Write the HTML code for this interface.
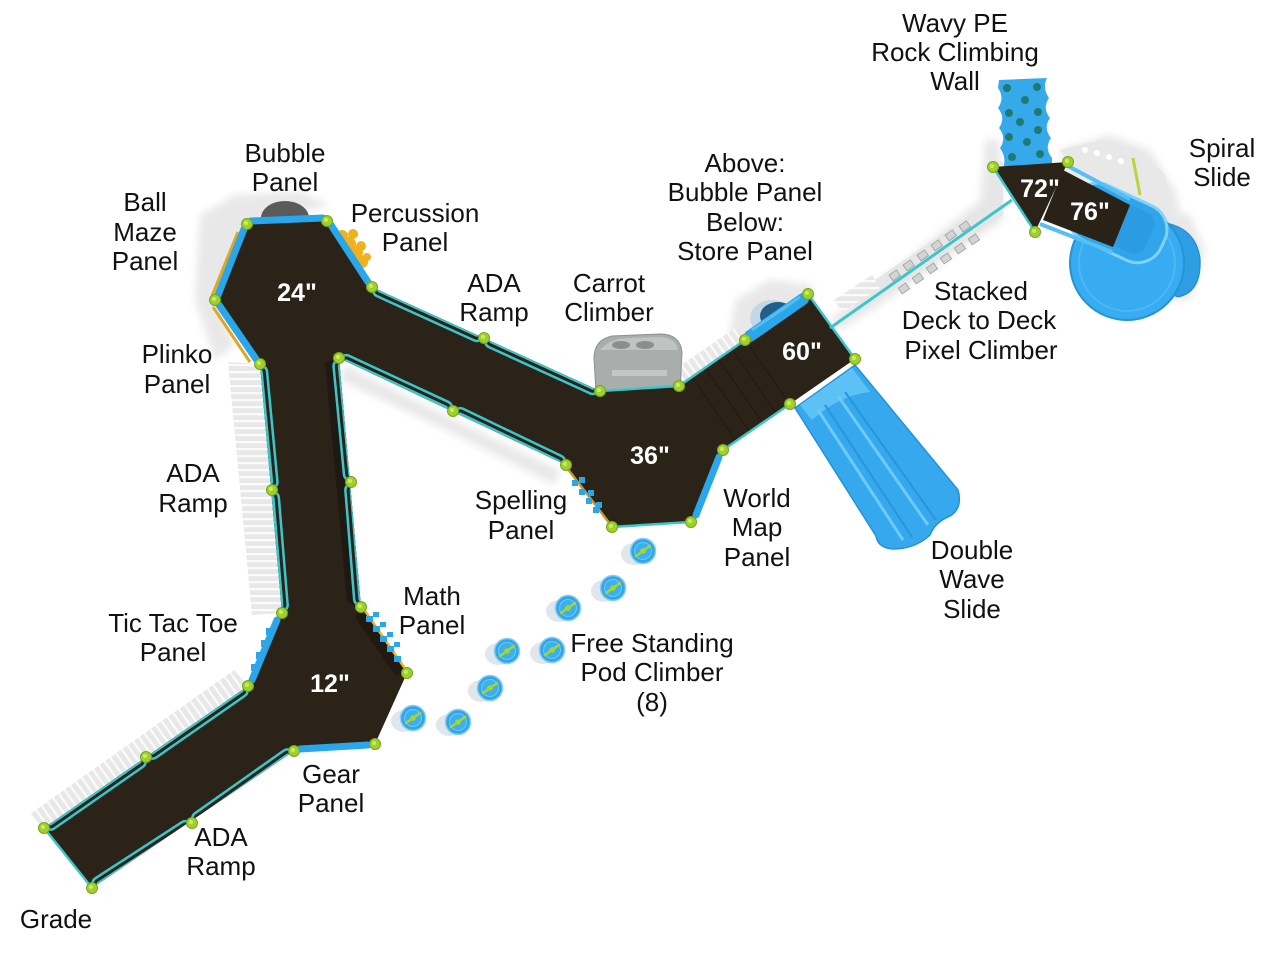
<!DOCTYPE html>
<html>
<head>
<meta charset="utf-8">
<style>
html,body{margin:0;padding:0;background:#fff;}
svg{display:block;}
.lb{font-family:"Liberation Sans",Arial,sans-serif;font-size:26px;fill:#111;text-anchor:middle;}
.dk{font-family:"Liberation Sans",Arial,sans-serif;font-size:25px;font-weight:bold;fill:#fff;text-anchor:middle;}
</style>
</head>
<body>
<svg width="1280" height="960" viewBox="0 0 1280 960" xmlns="http://www.w3.org/2000/svg">
<defs>
  <pattern id="rail" width="8" height="7" patternUnits="userSpaceOnUse">
    <rect width="8" height="7" fill="#e8e8e8"/>
    <rect width="8" height="2.2" fill="#fbfbfb"/>
  </pattern>
  <pattern id="railD" width="8" height="7" patternUnits="userSpaceOnUse" patternTransform="rotate(55)">
    <rect width="8" height="7" fill="#e8e8e8"/>
    <rect width="8" height="2.2" fill="#fbfbfb"/>
  </pattern>
  <filter id="blur" x="-20%" y="-20%" width="140%" height="140%"><feGaussianBlur stdDeviation="4"/></filter>
  <clipPath id="deckclip">
    <polygon points="247,224 327,221 372,287 600,391 679,386 745,340 808,294 855,359 790,404 723,450 691,522 612,527 566,465 339,358 361,607 407,673 375,744 294,751 92,888 44,828 248,686 282,613 260,364 215,300"/>
  </clipPath>
  <path id="rails" d="M241.4,690.6 L152.6,752.4 M139.4,761.6 L50.6,823.4 M287.5,755.6 L198.5,818.4 M185.3,827.4 L98.7,883.6 M260.8,372 L271.2,482 M272.6,498 L281.4,605 M339.8,366 L350.2,474 M351.6,490 L360.4,599 M379.3,290.3 L476.7,334.7 M491.3,341.3 L592.7,387.7 M346.3,361.4 L445.7,407.6 M460.3,414.4 L558.7,461.6"/>
  <g id="pod">
    <ellipse cx="-9" cy="3" rx="13" ry="11" fill="#dfe6ec"/>
    <circle r="12.5" fill="#2fa6ea" stroke="#86cdf2" stroke-width="1.5"/>
    <circle r="8.5" fill="#3bb0ef" stroke="#74c6f2" stroke-width="1"/>
    <line x1="-7" y1="5" x2="7" y2="-5" stroke="#a8d42c" stroke-width="2.6" stroke-linecap="round"/>
    <circle r="2.8" fill="#a8d42c"/>
  </g>
  <g id="post">
    <circle r="5.5" fill="#9fd02e" stroke="#76a51a" stroke-width="1"/>
    <circle r="2" cx="-1" cy="-1" fill="#c8ec5e"/>
  </g>
</defs>

<rect width="1280" height="960" fill="#fff"/>

<!-- ===== soft shadows ===== -->
<g filter="url(#blur)" fill="#e8e8e8">
  <polygon points="200,215 235,195 300,192 330,205 250,225 215,300 235,345 215,360 195,300"/>
  <polygon points="345,365 455,420 560,470 555,485 450,432 340,380"/>
  <polygon points="985,140 1000,140 1003,220 880,305 840,330 830,320 900,265 980,200"/>
  <polygon points="1060,150 1110,135 1150,150 1175,190 1185,230 1150,215 1100,190 1065,175"/>
  <polygon points="735,300 770,280 815,285 800,300 750,340 730,335"/>
  <polygon points="1135,205 1190,215 1205,250 1190,300 1160,300"/>
</g>
<polygon points="860,290 985,205 995,160 1003,162 1003,215 850,318" fill="#e6e6e6"/>
<polygon points="1060,150 1100,140 1140,150 1165,175 1170,200 1130,200 1075,172" fill="#e8e8e8"/>
<g fill="#fff">
  <circle cx="1085" cy="150" r="3"/><circle cx="1097" cy="153" r="3"/><circle cx="1109" cy="157" r="3"/><circle cx="1121" cy="161" r="3"/>
</g>
<line x1="1133" y1="158" x2="1140" y2="195" stroke="#b6d640" stroke-width="3"/>

<polygon points="228,362 260,364 282,613 252,615" fill="url(#rail)"/>
<polygon points="248,686 44,828 30,814 234,670" fill="url(#railD)"/>
<polygon points="679,386 745,340 738,326 672,371" fill="url(#railD)"/>
<polygon points="842,312 880,288 872,275 834,300" fill="url(#rail)"/>
<polygon points="600,380 680,375 675,365 605,368" fill="#ebebeb"/>

<!-- ===== Carrot climber ===== -->
<ellipse cx="640" cy="390" rx="48" ry="8" fill="#dcdcdc"/>
<path d="M596,392 L594,358 Q594,340 612,336 L660,334 Q680,334 682,352 L680,392 Z" fill="#a9adac" stroke="#8c908f" stroke-width="1"/>
<path d="M600,350 Q610,338 630,338 L660,337 Q676,338 678,350 Z" fill="#bfc3c2"/>
<ellipse cx="621" cy="345" rx="9" ry="4" fill="#8a8e8d"/>
<ellipse cx="645" cy="345" rx="9" ry="4" fill="#8a8e8d"/>
<rect x="612" y="370" width="55" height="6" fill="#c4c7c6"/>

<ellipse cx="285" cy="218" rx="24" ry="17" fill="#5a5a5a"/>

<ellipse cx="772" cy="318" rx="22" ry="18" fill="#a9cde6" opacity="0.6"/>
<ellipse cx="778" cy="316" rx="18" ry="14" fill="#1f5f8a"/>

<!-- ===== Main deck / ramps ===== -->
<polygon points="247,224 327,221 372,287 600,391 679,386 745,340 808,294 855,359 790,404 723,450 691,522 612,527 566,465 339,358 361,607 407,673 375,744 294,751 92,888 44,828 248,686 282,613 260,364 215,300" fill="#2c2318"/>

<g clip-path="url(#deckclip)">
  <polygon points="325,362 339,358 361,607 347,602" fill="#1f1913"/>
  <polygon points="339,358 380,375 372,392 340,378" fill="#1f1913"/>
  <polygon points="361,607 407,673 395,675 355,618" fill="#211a13"/>
  <g stroke="#221b13" stroke-width="1.2">
    <line x1="692" y1="377" x2="736" y2="441"/>
    <line x1="705" y1="368" x2="750" y2="432"/>
    <line x1="718" y1="359" x2="763" y2="423"/>
    <line x1="732" y1="349" x2="776" y2="413"/>
    <line x1="745" y1="340" x2="790" y2="404"/>
  </g>
  <use href="#rails" fill="none" stroke="#3cc6cb" stroke-width="15" stroke-linecap="round"/>
  <use href="#rails" fill="none" stroke="#2c2318" stroke-width="10" stroke-linecap="round"/>
  <use href="#rails" fill="none" stroke="#3cc6cb" stroke-width="4" stroke-linecap="round"/>
</g>

<g stroke="#3cc6cb" stroke-width="2.5" fill="none">
  <line x1="600" y1="391" x2="679" y2="386"/>
  <line x1="679" y1="386" x2="745" y2="340"/>
  <line x1="790" y1="404" x2="723" y2="450"/>
  <line x1="612" y1="527" x2="691" y2="522"/>
  <line x1="808" y1="294" x2="855" y2="359"/>
  <line x1="44" y1="828" x2="92" y2="888"/>
</g>

<!-- ===== Pixel climber ===== -->
<line x1="830" y1="328" x2="1012" y2="200" stroke="#3cc6cb" stroke-width="3"/>
<g fill="#d2d4d4" stroke="#9a9c9c" stroke-width="0.8">
  <g transform="translate(900,282) rotate(-35)"><rect x="-5" y="-12" width="9" height="7"/><rect x="-5" y="4" width="9" height="7"/></g>
  <g transform="translate(914,272) rotate(-35)"><rect x="-5" y="-12" width="9" height="7"/><rect x="-5" y="4" width="9" height="7"/></g>
  <g transform="translate(928,262) rotate(-35)"><rect x="-5" y="-12" width="9" height="7"/><rect x="-5" y="4" width="9" height="7"/></g>
  <g transform="translate(942,252) rotate(-35)"><rect x="-5" y="-12" width="9" height="7"/><rect x="-5" y="4" width="9" height="7"/></g>
  <g transform="translate(956,242) rotate(-35)"><rect x="-5" y="-12" width="9" height="7"/><rect x="-5" y="4" width="9" height="7"/></g>
  <g transform="translate(970,233) rotate(-35)"><rect x="-5" y="-12" width="9" height="7"/><rect x="-5" y="4" width="9" height="7"/></g>
</g>

<!-- ===== Panels ===== -->
<g fill="#f0b11e">
  <circle cx="342" cy="236" r="6"/><circle cx="349" cy="244" r="7"/><circle cx="356" cy="253" r="7"/><circle cx="362" cy="262" r="6"/><circle cx="353" cy="234" r="5"/><circle cx="361" cy="246" r="5"/><circle cx="367" cy="257" r="4"/>
</g>
<g stroke="#e0a820" stroke-width="3" fill="none">
  <line x1="238" y1="232" x2="212" y2="296"/>
  <line x1="213" y1="307" x2="250" y2="362"/>
</g>
<g stroke="#2aa6ea" stroke-width="7" stroke-linecap="round" fill="none">
  <line x1="251" y1="221" x2="323" y2="218"/>
  <line x1="331" y1="225" x2="368" y2="282"/>
  <line x1="244" y1="229" x2="218" y2="295"/>
  <line x1="219" y1="305" x2="256" y2="359"/>
  <line x1="277" y1="620" x2="252" y2="680"/>
  <line x1="300" y1="749" x2="368" y2="745"/>
  <line x1="719" y1="457" x2="696" y2="515"/>
</g>
<g fill="#2aa6ea">
  <rect x="266" y="628" width="7" height="7"/><rect x="261" y="640" width="7" height="7"/><rect x="256" y="652" width="7" height="7"/><rect x="251" y="664" width="7" height="7"/>
</g>
<line x1="363" y1="608" x2="406" y2="670" stroke="#e8b820" stroke-width="2.5"/>
<g fill="#2aa6ea">
  <rect x="366" y="616" width="7" height="6"/><rect x="373" y="626" width="7" height="6"/><rect x="380" y="636" width="7" height="6"/><rect x="387" y="646" width="7" height="6"/><rect x="394" y="656" width="7" height="6"/>
  <rect x="373" y="612" width="6" height="5"/><rect x="380" y="622" width="6" height="5"/><rect x="387" y="632" width="6" height="5"/><rect x="394" y="642" width="6" height="5"/>
</g>
<line x1="567" y1="468" x2="610" y2="524" stroke="#c89a30" stroke-width="2.5"/>
<g fill="#2aa6ea">
  <rect x="572" y="480" width="6" height="6"/><rect x="579" y="489" width="6" height="6"/><rect x="586" y="498" width="6" height="6"/><rect x="593" y="507" width="6" height="6"/>
  <rect x="579" y="477" width="6" height="6"/><rect x="588" y="490" width="6" height="6"/><rect x="596" y="502" width="6" height="6"/>
</g>
<line x1="750" y1="336" x2="803" y2="299" stroke="#2aa6ea" stroke-width="12" stroke-linecap="round"/>
<line x1="752" y1="330" x2="800" y2="297" stroke="#56bdf2" stroke-width="3"/>

<!-- ===== Double wave slide ===== -->
<path d="M795,408 L855,365 L958,490 Q963,508 950,516 Q935,522 930,535 Q915,549 893,549 Q878,548 876,536 Z" fill="#36a9ee" stroke="#2590d6" stroke-width="1.5"/>
<path d="M800,405 L852,368 L870,392 Q840,395 812,420 Z" fill="#5cc2f5"/>
<g stroke="#6dcaf6" stroke-width="3" fill="none">
  <line x1="818" y1="410" x2="903" y2="540"/>
  <line x1="838" y1="396" x2="928" y2="525"/>
</g>
<g stroke="#2a94d8" stroke-width="2" fill="none">
  <line x1="825" y1="405" x2="912" y2="537"/>
  <line x1="845" y1="392" x2="936" y2="520"/>
</g>

<!-- ===== Spiral slide ===== -->
<path d="M1158,222 Q1195,225 1200,258 Q1202,292 1178,297 L1160,290 Z" fill="#2e9ee2" stroke="#2288cc" stroke-width="1"/>
<circle cx="1127" cy="263" r="57" fill="#38acf0" stroke="#2592d8" stroke-width="2"/>
<circle cx="1127" cy="263" r="48" fill="none" stroke="#4cb8f3" stroke-width="2"/>
<g transform="translate(1122,225) rotate(25)">
  <rect x="-55" y="-30" width="100" height="60" rx="26" fill="#31a5ec" stroke="#7fd2fa" stroke-width="3"/>
  <rect x="-10" y="-22" width="40" height="44" rx="12" fill="#2b9ce4"/>
</g>

<!-- ===== Rock wall ===== -->
<path d="M999,80 L1047,78 q-5,10 2,20 q-7,10 1,20 q-7,10 1,20 q-7,10 1,20 L1052,166 L1003,168 q4,-10 -3,-20 q7,-10 -1,-20 q7,-10 -1,-20 q7,-10 0,-20 Z" fill="#36a9ea"/>
<g fill="#1f7a74">
  <circle cx="1007" cy="88" r="4"/><circle cx="1037" cy="87" r="4"/><circle cx="1025" cy="100" r="4"/>
  <circle cx="1009" cy="113" r="4"/><circle cx="1038" cy="112" r="4"/><circle cx="1020" cy="122" r="4"/>
  <circle cx="1009" cy="137" r="4"/><circle cx="1027" cy="142" r="4"/><circle cx="1038" cy="130" r="4"/>
  <circle cx="1012" cy="157" r="4"/><circle cx="1040" cy="154" r="4"/>
</g>

<!-- ===== 72" / 76" decks ===== -->
<polygon points="1063,170 1130,205 1113,247 1043,220" fill="#2a2117"/>
<polygon points="993,167 1068,162 1035,232" fill="#2c2318"/>
<line x1="993" y1="167" x2="1035" y2="232" stroke="#3cc6cb" stroke-width="2.5"/>
<line x1="1068" y1="166" x2="1130" y2="199" stroke="#56c0f5" stroke-width="4"/>
<line x1="1040" y1="224" x2="1112" y2="252" stroke="#56c0f5" stroke-width="4"/>

<!-- ===== Pods ===== -->
<use href="#pod" x="643" y="551"/>
<use href="#pod" x="613" y="588"/>
<use href="#pod" x="568" y="608"/>
<use href="#pod" x="552" y="650"/>
<use href="#pod" x="507" y="651"/>
<use href="#pod" x="490" y="688"/>
<use href="#pod" x="458" y="722"/>
<use href="#pod" x="413" y="718"/>

<!-- ===== Posts ===== -->
<use href="#post" x="247" y="224"/><use href="#post" x="327" y="221"/><use href="#post" x="372" y="287"/>
<use href="#post" x="215" y="300"/><use href="#post" x="260" y="364"/><use href="#post" x="339" y="358"/>
<use href="#post" x="272" y="490"/><use href="#post" x="351" y="482"/>
<use href="#post" x="282" y="613"/><use href="#post" x="361" y="607"/><use href="#post" x="407" y="673"/>
<use href="#post" x="375" y="744"/><use href="#post" x="294" y="751"/><use href="#post" x="248" y="686"/>
<use href="#post" x="146" y="757"/><use href="#post" x="192" y="823"/><use href="#post" x="44" y="828"/><use href="#post" x="92" y="888"/>
<use href="#post" x="484" y="338"/><use href="#post" x="453" y="411"/>
<use href="#post" x="600" y="391"/><use href="#post" x="679" y="386"/><use href="#post" x="566" y="465"/>
<use href="#post" x="612" y="527"/><use href="#post" x="691" y="522"/><use href="#post" x="723" y="450"/>
<use href="#post" x="745" y="340"/><use href="#post" x="808" y="294"/><use href="#post" x="855" y="359"/><use href="#post" x="790" y="404"/>
<use href="#post" x="993" y="167"/><use href="#post" x="1068" y="162"/><use href="#post" x="1035" y="232"/>

<!-- ===== Deck height labels ===== -->
<text class="dk" x="297" y="301">24"</text>
<text class="dk" x="650" y="464">36"</text>
<text class="dk" x="802" y="360">60"</text>
<text class="dk" x="330" y="692">12"</text>
<text class="dk" x="1040" y="197">72"</text>
<text class="dk" x="1090" y="220">76"</text>

<!-- ===== Callout labels ===== -->
<text class="lb" x="955" y="32">Wavy PE</text>
<text class="lb" x="955" y="61">Rock Climbing</text>
<text class="lb" x="955" y="90">Wall</text>

<text class="lb" x="1222" y="157">Spiral</text>
<text class="lb" x="1222" y="186">Slide</text>

<text class="lb" x="285" y="162">Bubble</text>
<text class="lb" x="285" y="191">Panel</text>

<text class="lb" x="145" y="211">Ball</text>
<text class="lb" x="145" y="241">Maze</text>
<text class="lb" x="145" y="270">Panel</text>

<text class="lb" x="415" y="222">Percussion</text>
<text class="lb" x="415" y="251">Panel</text>

<text class="lb" x="494" y="292">ADA</text>
<text class="lb" x="494" y="321">Ramp</text>

<text class="lb" x="609" y="292">Carrot</text>
<text class="lb" x="609" y="321">Climber</text>

<text class="lb" x="745" y="172">Above:</text>
<text class="lb" x="745" y="201">Bubble Panel</text>
<text class="lb" x="745" y="231">Below:</text>
<text class="lb" x="745" y="260">Store Panel</text>

<text class="lb" x="981" y="300">Stacked</text>
<text class="lb" x="979" y="329">Deck to Deck</text>
<text class="lb" x="981" y="359">Pixel Climber</text>

<text class="lb" x="177" y="363">Plinko</text>
<text class="lb" x="177" y="393">Panel</text>

<text class="lb" x="193" y="482">ADA</text>
<text class="lb" x="193" y="512">Ramp</text>

<text class="lb" x="521" y="509">Spelling</text>
<text class="lb" x="521" y="539">Panel</text>

<text class="lb" x="757" y="507">World</text>
<text class="lb" x="757" y="536">Map</text>
<text class="lb" x="757" y="566">Panel</text>

<text class="lb" x="972" y="559">Double</text>
<text class="lb" x="972" y="588">Wave</text>
<text class="lb" x="972" y="618">Slide</text>

<text class="lb" x="432" y="605">Math</text>
<text class="lb" x="432" y="634">Panel</text>

<text class="lb" x="652" y="652">Free Standing</text>
<text class="lb" x="652" y="681">Pod Climber</text>
<text class="lb" x="652" y="711">(8)</text>

<text class="lb" x="173" y="632">Tic Tac Toe</text>
<text class="lb" x="173" y="661">Panel</text>

<text class="lb" x="331" y="783">Gear</text>
<text class="lb" x="331" y="812">Panel</text>

<text class="lb" x="221" y="846">ADA</text>
<text class="lb" x="221" y="875">Ramp</text>

<text class="lb" x="56" y="928">Grade</text>
</svg>
</body>
</html>
